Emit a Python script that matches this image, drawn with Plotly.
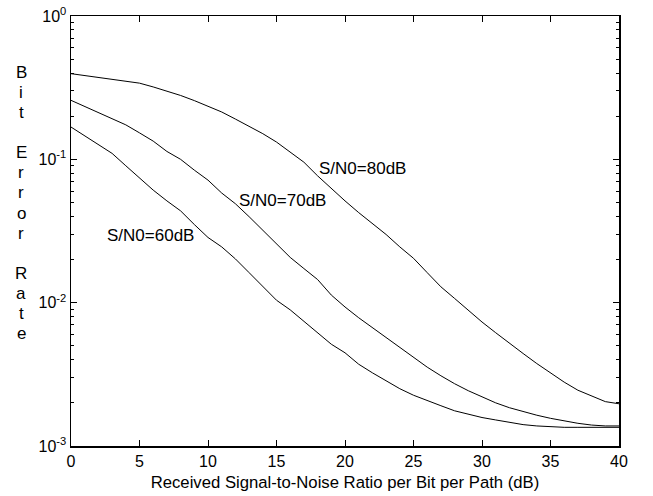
import plotly.graph_objects as go

snr_db = list(range(0, 41))

ber_80db = [0.396, 0.385, 0.373, 0.362, 0.352, 0.340, 0.320, 0.299, 0.279, 0.257,
            0.236, 0.214, 0.191, 0.170, 0.151, 0.132, 0.112, 0.0955, 0.0767, 0.0624,
            0.0513, 0.0425, 0.0355, 0.0299, 0.0245, 0.0204, 0.0162, 0.0129, 0.0107, 0.00881,
            0.00733, 0.00617, 0.00519, 0.00442, 0.00376, 0.00324, 0.00279, 0.00245, 0.00224, 0.00204,
            0.00197]

ber_70db = [0.258, 0.234, 0.214, 0.194, 0.174, 0.153, 0.134, 0.1135, 0.100, 0.0841,
            0.0716, 0.0582, 0.0490, 0.0398, 0.0319, 0.0260, 0.0207, 0.0173, 0.0145, 0.0113,
            0.00933, 0.00785, 0.00668, 0.00575, 0.00490, 0.00412, 0.00355, 0.00309, 0.00272, 0.00243,
            0.00219, 0.00200, 0.00185, 0.00174, 0.00164, 0.00156, 0.00149, 0.00144, 0.00140, 0.00138,
            0.00138]

ber_60db = [0.168, 0.146, 0.127, 0.110, 0.0902, 0.0745, 0.0610, 0.0513, 0.0437, 0.0351,
            0.0285, 0.0245, 0.0202, 0.0162, 0.0130, 0.0104, 0.00891, 0.00741, 0.00617, 0.00513,
            0.00447, 0.00372, 0.00324, 0.00285, 0.00251, 0.00226, 0.00207, 0.00191, 0.00176, 0.00166,
            0.00158, 0.00152, 0.00146, 0.00141, 0.00138, 0.00136, 0.00135, 0.00135, 0.00135, 0.00135,
            0.00135]

curve_labels = ["S/N0=80dB", "S/N0=70dB", "S/N0=60dB"]

x_tick_vals = [0, 5, 10, 15, 20, 25, 30, 35, 40]
y_tick_vals = [1e-3, 1e-2, 1e-1, 1e0]
y_tick_text = ["10<sup>-3</sup>", "10<sup>-2</sup>", "10<sup>-1</sup>", "10<sup>0</sup>"]
y_minor_vals = [m * 10.0 ** e for e in (-3, -2, -1) for m in range(2, 10)]

x_title = "Received Signal-to-Noise Ratio per Bit per Path (dB)"
y_title_letters = ["B", "i", "t", "", "E", "r", "r", "o", "r", "", "R", "a", "t", "e"]

FONT = "Liberation Sans, Arial, Helvetica, sans-serif"

fig = go.Figure()
for ys in (ber_80db, ber_70db, ber_60db):
    fig.add_trace(go.Scatter(x=snr_db, y=ys, mode="lines",
                             line=dict(color="black", width=1), showlegend=False))

W, H = 653, 496
L, R, T, B = 71, 34, 16, 50
PL, PR, PT, PB = L, W - R, T, H - B

def px_to_paper(px, py):
    return (px - PL) / (PR - PL), (PB - py) / (PB - PT)

annotations = []
# curve labels (pixel positions of left edge / vertical centre)
for text, (px, py) in zip(curve_labels, [(317, 168), (237, 200), (105, 235)]):
    ax_, ay_ = px_to_paper(px, py)
    annotations.append(dict(text=text, x=ax_, y=ay_, xref="paper", yref="paper",
                            xanchor="left", yanchor="middle", showarrow=False,
                            font=dict(size=17, color="black", family=FONT)))
# stacked y-axis title
for i, ch in enumerate(y_title_letters):
    if not ch:
        continue
    ax_, ay_ = px_to_paper(21, 72 + i * 20.15)
    annotations.append(dict(text=ch, x=ax_, y=ay_, xref="paper", yref="paper",
                            xanchor="center", yanchor="middle", showarrow=False,
                            font=dict(size=17, color="black", family=FONT)))

fig.update_layout(
    width=W, height=H,
    margin=dict(l=L, r=R, t=T, b=B, pad=0, autoexpand=False),
    paper_bgcolor="white", plot_bgcolor="white",
    font=dict(family=FONT, size=16, color="black"),
    annotations=annotations,
)
fig.update_xaxes(
    range=[0, 40], tickvals=x_tick_vals, ticks="inside", ticklen=6, tickwidth=1,
    tickcolor="black", showline=True, linecolor="black", linewidth=1.5, mirror="ticks",
    showgrid=False, zeroline=False, tickfont=dict(size=16), automargin=False,
    ticklabeloverflow="allow",
    title=dict(text=x_title, font=dict(size=16.7), standoff=7),
)
fig.update_yaxes(
    type="log", range=[-3, 0], tickvals=y_tick_vals, ticktext=y_tick_text,
    ticks="inside", ticklen=6, tickwidth=1, tickcolor="black",
    showline=True, linecolor="black", linewidth=1.5, mirror="ticks",
    showgrid=False, zeroline=False, tickfont=dict(size=16), automargin=False,
    ticklabeloverflow="allow",
    minor=dict(tickmode="array", tickvals=y_minor_vals, ticks="inside", ticklen=3,
               tickcolor="black", tickwidth=1, showgrid=False),
)

fig.write_html(
    "out.html",
    config={"displayModeBar": False, "staticPlot": True},
    post_script="document.body.style.margin='0px';document.body.style.overflow='hidden';",
)
